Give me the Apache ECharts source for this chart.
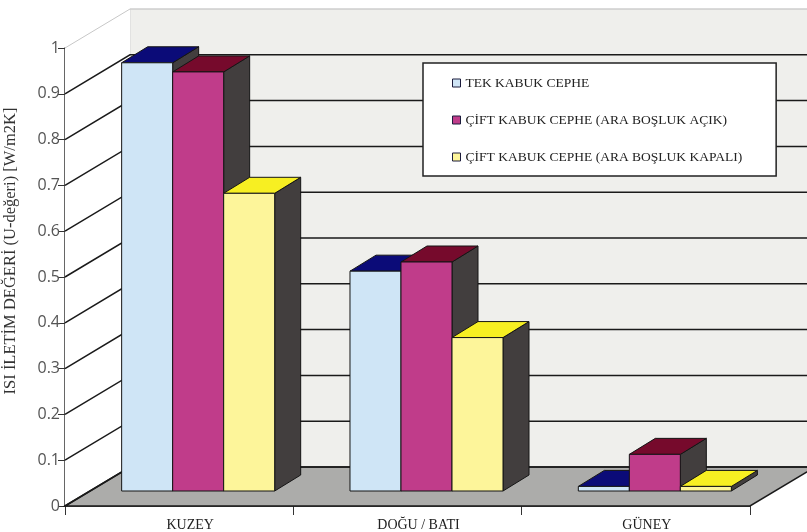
<!DOCTYPE html>
<html>
<head>
<meta charset="utf-8">
<script src="https://cdn.jsdelivr.net/npm/echarts@6/dist/echarts.min.js"></script>
<style>
  html, body { margin: 0; padding: 0; background: #fff; }
  #chart { width: 807px; height: 532px; }
</style>
</head>
<body>
<div id="chart"></div>
<script>
// categories and values
const categories = ["KUZEY", "DOĞU / BATI", "GÜNEY"];
const seriesNames = [
  "TEK KABUK CEPHE",
  "ÇİFT KABUK CEPHE (ARA BOŞLUK AÇIK)",
  "ÇİFT KABUK CEPHE (ARA BOŞLUK KAPALI)"
];
const tekKabuk = [0.935, 0.48, 0.01];
const ciftAcik = [0.915, 0.5, 0.08];
const ciftKapali = [0.65, 0.335, 0.01];
const yTicks = [0, 0.1, 0.2, 0.3, 0.4, 0.5, 0.6, 0.7, 0.8, 0.9, 1];

// fake 3d: oblique offsets in px
const WALL_DX = 65, WALL_DY = -39;
const BAR_SHIFT_X = 19, BAR_SHIFT_Y = -15;
const BAR_DX = 26, BAR_DY = -16;
const BAR_RATIO = 0.2234;

const faceColors = ["#cfe5f6", "#c03c8a", "#fdf59a"];
const topColors = ["#0b0b78", "#760a2c", "#f7ef22"];
const sideColor = "#423e3e";

function barRenderer(slot) {
  return function (params, api) {
    const cat = api.value(0);
    const base = api.coord([cat, 0]);
    const top = api.coord([cat, api.value(1)]);
    const w = api.size([1, 0])[0] * BAR_RATIO;
    const x0 = base[0] + BAR_SHIFT_X - 1.5 * w + slot * w;
    const x1 = x0 + w;
    const yb = base[1] + BAR_SHIFT_Y;
    const yt = top[1] + BAR_SHIFT_Y;
    const edge = { stroke: "#151515", lineWidth: 1 };
    return {
      type: "group",
      children: [
        {
          type: "polygon",
          shape: { points: [[x1, yt], [x1 + BAR_DX, yt + BAR_DY], [x1 + BAR_DX, yb + BAR_DY], [x1, yb]] },
          style: Object.assign({ fill: sideColor }, edge)
        },
        {
          type: "polygon",
          shape: { points: [[x0, yt], [x1, yt], [x1 + BAR_DX, yt + BAR_DY], [x0 + BAR_DX, yt + BAR_DY]] },
          style: Object.assign({ fill: topColors[slot] }, edge)
        },
        {
          type: "rect",
          shape: { x: x0, y: yt, width: w, height: yb - yt },
          style: Object.assign({ fill: faceColors[slot] }, edge)
        }
      ]
    };
  };
}

// walls + floor
function wallRenderer(params, api) {
  const cs = params.coordSys;
  const L = cs.x, R = cs.x + cs.width;
  const T = api.coord([0, 1])[1];
  const B = api.coord([0, 0])[1];
  return {
    type: "group",
    children: [
      {
        type: "rect",
        shape: { x: L + WALL_DX, y: T + WALL_DY, width: R - L + 40, height: B - T },
        style: { fill: "#efefec", stroke: "#d6d6d6", lineWidth: 1 }
      },
      {
        type: "polygon",
        shape: { points: [[L, T], [L + WALL_DX, T + WALL_DY], [L + WALL_DX, B + WALL_DY], [L, B]] },
        style: { fill: "#ffffff" }
      },
      {
        type: "polygon",
        shape: { points: [[L, B], [L + WALL_DX, B + WALL_DY], [R + WALL_DX, B + WALL_DY], [R, B]] },
        style: { fill: "#acacaa", stroke: "#1a1a1a", lineWidth: 1.5 }
      }
    ]
  };
}

function gridRenderer(params, api) {
  const cs = params.coordSys;
  const L = cs.x, R = cs.x + cs.width;
  const v = api.value(1);
  const y = api.coord([0, v])[1];
  return {
    type: "polyline",
    shape: { points: [[L, y], [L + WALL_DX, y + WALL_DY], [R + WALL_DX + 40, y + WALL_DY]] },
    style: { fill: null, stroke: v === 1 ? "#c8c8c8" : "#1a1a1a", lineWidth: v === 1 ? 1 : 1.5 }
  };
}

const valueLists = [tekKabuk, ciftAcik, ciftKapali];

const chart = echarts.init(document.getElementById("chart"));
chart.setOption({
  animation: false,
  backgroundColor: "#ffffff",
  grid: { left: 65, right: 57, top: 48, bottom: 26, containLabel: false, outerBoundsMode: "none" },
  legend: {
    orient: "vertical",
    left: 423,
    top: 63,
    data: seriesNames.map(function (n, i) {
      return { name: n, icon: "rect", itemStyle: { color: faceColors[i], borderColor: "#1c1c3c", borderWidth: 1 } };
    }),
    itemWidth: 8,
    itemHeight: 8,
    itemGap: 23,
    padding: [13, 34, 12, 29],
    backgroundColor: "#ffffff",
    borderColor: "#222",
    borderWidth: 1.5,
    borderRadius: 0,
    textStyle: { fontFamily: "Liberation Serif", fontSize: 13.5, color: "#222" }
  },
  xAxis: {
    type: "category",
    data: categories,
    axisLine: { lineStyle: { color: "#1a1a1a", width: 1.5 } },
    axisTick: { show: true, interval: 0, length: 9, inside: false, lineStyle: { color: "#333" } },
    axisLabel: {
      margin: 12,
      fontFamily: "Liberation Serif",
      fontSize: 14,
      color: "#222",
      padding: [0, 0, 0, 22]
    },
    splitLine: { show: false },
    z: 0
  },
  yAxis: {
    type: "value",
    min: 0,
    max: 1,
    interval: 0.1,
    name: "ISI İLETİM DEĞERİ (U-değeri) [W/m2K]",
    nameLocation: "middle",
    nameGap: 46,
    nameTextStyle: {
      fontFamily: "Liberation Serif",
      fontSize: 16.5,
      color: "#333",
      padding: [0, 0, 0, 52]
    },
    axisLine: { show: true, lineStyle: { color: "#333", width: 1.5 } },
    axisTick: { show: true, length: 7, lineStyle: { color: "#333" } },
    axisLabel: {
      margin: 5,
      fontFamily: "Open Sans",
      fontSize: 16,
      color: "#555"
    },
    splitLine: { show: false }
  },
  series: [
    {
      type: "custom",
      name: "walls",
      silent: true,
      z: 1,
      renderItem: wallRenderer,
      data: [[0, 0]]
    },
    {
      type: "custom",
      name: "grid",
      silent: true,
      z: 1,
      renderItem: gridRenderer,
      data: yTicks.map(function (v) { return [0, v]; })
    }
  ].concat(valueLists.map(function (vals, i) {
    return {
      type: "custom",
      name: seriesNames[i],
      z: 2,
      itemStyle: { color: faceColors[i] },
      renderItem: barRenderer(i),
      data: vals.map(function (v, c) { return [c, v]; })
    };
  }))
});
</script>
</body>
</html>
